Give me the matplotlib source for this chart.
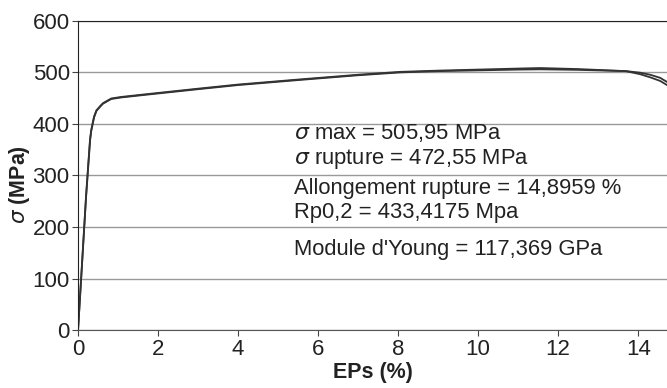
import matplotlib.pyplot as plt

plt.rcParams['font.family'] = ['Liberation Sans', 'DejaVu Sans']
plt.rcParams['mathtext.fontset'] = 'dejavusans'

# two tensile test curves (strain in %, stress in MPa)
eps_a = [0, 0.1, 0.2, 0.3, 0.33, 0.4, 0.46, 0.55, 0.625, 0.83, 1.08, 1.67, 3, 4,
         5.55, 7, 8.05, 9, 10, 11, 11.55, 12.5, 13.7, 14.05, 14.3, 14.55, 14.72]
sig_a = [0, 130, 260, 370, 388, 414, 426, 434, 440, 449, 452, 457, 468, 476,
         486, 495, 500.6, 503, 505, 507, 508, 506, 502, 496, 490, 483, 475]
eps_b = [0, 0.1, 0.2, 0.3, 0.33, 0.4, 0.46, 0.55, 0.625, 0.83, 1.08, 1.67, 3, 4,
         5.55, 7, 8.05, 9, 10, 11, 11.55, 12.5, 13.7, 14.05, 14.3, 14.55, 14.72]
sig_b = [0, 128, 257, 367, 386, 412, 425, 433, 439, 448, 451, 456, 467, 475,
         485, 494, 499.5, 502, 503.5, 505, 505.5, 504.5, 502, 499, 495, 489, 481]

results = [
    r'$\sigma$ max = 505,95 MPa',
    r'$\sigma$ rupture = 472,55 MPa',
    'Allongement rupture = 14,8959 %',
    'Rp0,2 = 433,4175 Mpa',
    "Module d'Young = 117,369 GPa",
]
results_y = [382, 331, 275, 229, 157]

x_ticks = [0, 2, 4, 6, 8, 10, 12, 14]
y_ticks = [0, 100, 200, 300, 400, 500, 600]

fig = plt.figure(figsize=(6.67, 3.88), dpi=100)
ax = fig.add_axes([0.117, 0.149, 0.883, 0.798])

ax.plot(eps_a, sig_a, color='#333333', lw=1.3)
ax.plot(eps_b, sig_b, color='#333333', lw=1.3)

for txt, y in zip(results, results_y):
    ax.text(5.4, y, txt, fontsize=15.8, color='#222222', va='center', ha='left')

ax.set_xlim(0, 14.72)
ax.set_ylim(0, 600)
ax.set_xticks(x_ticks)
ax.set_yticks(y_ticks)
ax.yaxis.grid(True, color='#999999', lw=1)
ax.set_axisbelow(True)

ax.spines['right'].set_visible(False)
ax.spines['left'].set_color('#222222')
ax.spines['top'].set_color('#222222')
ax.spines['bottom'].set_color('#555555')
ax.tick_params(labelsize=16, length=4, color='#444444', labelcolor='#222222', pad=2)

ax.set_xlabel('EPs (%)', fontsize=15.5, fontweight='bold', color='#222222', labelpad=2)
ax.set_ylabel(r'$\sigma$ (MPa)', fontsize=15.5, fontweight='bold', color='#222222')
ax.yaxis.set_label_coords(-0.078, 0.47)

fig.savefig('out.png', dpi=100)
